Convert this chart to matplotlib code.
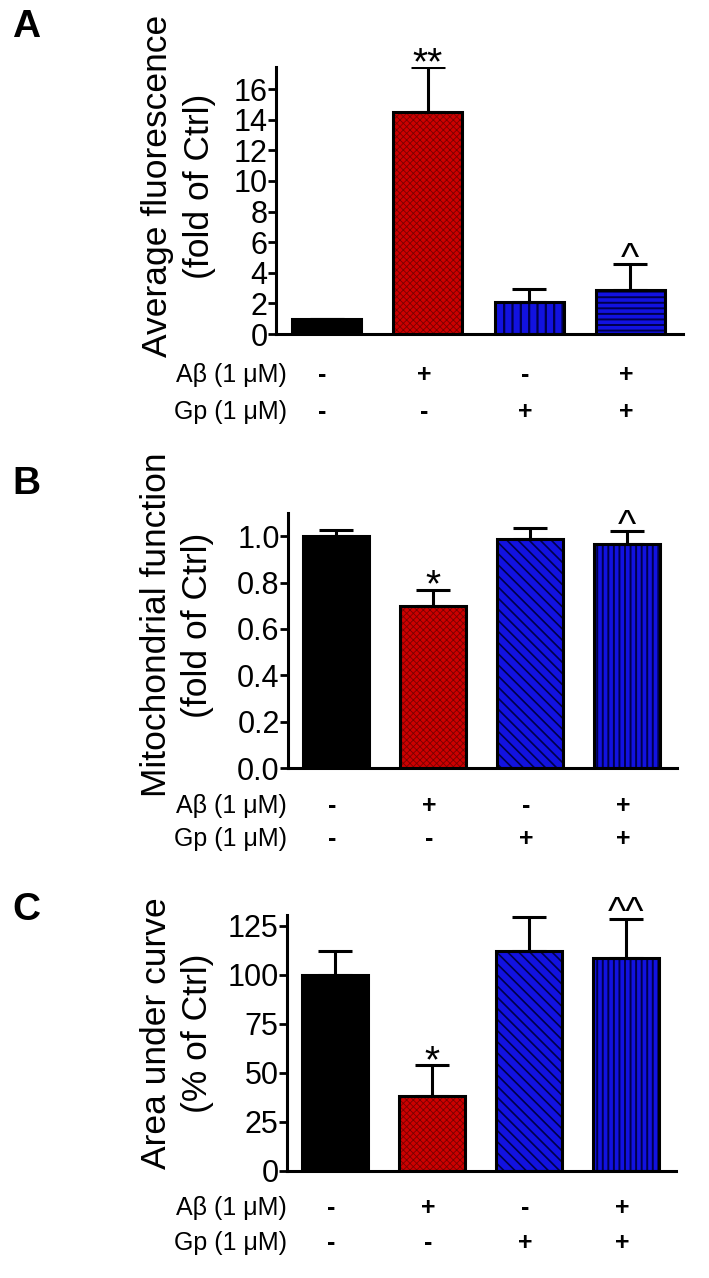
import matplotlib
matplotlib.use("Agg")
import matplotlib.pyplot as plt
import matplotlib.transforms as mtransforms
from matplotlib import font_manager

# ---------------- data ----------------
groups = ["Ctrl", "Abeta", "Gp", "Abeta+Gp"]
abeta_signs = ["-", "+", "-", "+"]
gp_signs = ["-", "-", "+", "+"]

fluor_mean = [1.0, 14.5, 2.1, 2.9]
fluor_err = [0.0, 2.95, 0.85, 1.65]
fluor_marks = ["", "**", "", "^"]
fluor_ticks = [0, 2, 4, 6, 8, 10, 12, 14, 16]

mito_mean = [1.0, 0.70, 0.99, 0.967]
mito_err = [0.028, 0.07, 0.045, 0.055]
mito_marks = ["", "*", "", "^"]
mito_ticks = [0.0, 0.2, 0.4, 0.6, 0.8, 1.0]

auc_mean = [100.0, 38.0, 112.0, 108.5]
auc_err = [12.0, 16.0, 17.5, 20.0]
auc_marks = ["", "*", "", "^^"]
auc_ticks = [0, 25, 50, 75, 100, 125]

# ---------------- style ----------------
W, H = 709, 1278
fig = plt.figure(figsize=(W / 100, H / 100), dpi=100)
fig.patch.set_facecolor("white")

names = {f.name for f in font_manager.fontManager.ttflist}
FONT = "Liberation Sans" if "Liberation Sans" in names else "DejaVu Sans"
HAS_NARROW = "Liberation Sans Narrow" in names
NARROW = "Liberation Sans Narrow" if HAS_NARROW else FONT
plt.rcParams["font.family"] = [FONT, "DejaVu Sans"]
plt.rcParams["hatch.linewidth"] = 1.4

TICK_FS = 27 if HAS_NARROW else 22
ROW_FS = 21 if HAS_NARROW else 18
MARK_FS = 30 if HAS_NARROW else 28


def frac_rect(x0, y0, x1, y1):
    return [x0 / W, 1 - y1 / H, (x1 - x0) / W, (y1 - y0) / H]


styles = [
    dict(face="black", hatch=None, hcol="black", hlw=1.0),
    dict(face="#cc0000", hatch="xxxxx", hcol="#7a0000", hlw=0.6),
]


def make_panel(rect, means, errs, marks, ticks, ylim, ticklabels, style3, style4,
               ylab1, ylab2, lab_x1, lab_x2, lab_y, letter, letter_y,
               row1_y, row2_y):
    ax = fig.add_axes(frac_rect(*rect))
    x = list(range(len(means)))
    sty = styles + [style3, style4]
    for i in x:
        s = sty[i]
        b = ax.bar(i, means[i], width=0.68, color=s["face"], edgecolor=s["hcol"],
                   linewidth=0, hatch=s["hatch"], zorder=2)
        for p in b:
            if hasattr(p, "set_hatch_linewidth"):
                p.set_hatch_linewidth(s["hlw"])
        ax.bar(i, means[i], width=0.68, fill=False, edgecolor="black",
               linewidth=2.2, zorder=3)
    ax.errorbar(x, means, yerr=[[0] * len(errs), errs], fmt="none",
                ecolor="black", elinewidth=2.2, capsize=12, capthick=2.2,
                zorder=4)
    for i, m in enumerate(marks):
        if m:
            dy = -5 if "*" in m else -4
            ax.annotate(m, (i, means[i] + errs[i]), xytext=(0, dy),
                        textcoords="offset points", ha="center",
                        va="baseline", fontsize=MARK_FS, family=NARROW,
                        zorder=5)
    ax.set_xlim(-0.5, 3.52)
    ax.set_ylim(*ylim)
    ax.set_yticks(ticks)
    ax.set_yticklabels(ticklabels, fontsize=TICK_FS, family=NARROW)
    ax.set_xticks([])
    for sp in ["top", "right"]:
        ax.spines[sp].set_visible(False)
    for sp in ["left", "bottom"]:
        ax.spines[sp].set_linewidth(2.2)
    ax.tick_params(axis="y", direction="out", length=6, width=2.0, pad=0)
    ax.set_facecolor("white")

    # y label (two lines)
    fig.text(lab_x1 / W, 1 - lab_y / H, ylab1, rotation=90, ha="center",
             va="center", fontsize=25.5)
    fig.text(lab_x2 / W, 1 - lab_y / H, ylab2, rotation=90, ha="center",
             va="center", fontsize=25.5)
    # panel letter
    fig.text(26 / W, 1 - letter_y / H, letter, ha="center", va="center",
             fontsize=28, fontweight="bold")
    # treatment rows
    trans = mtransforms.blended_transform_factory(ax.transData, fig.transFigure)
    fig.text(287 / W, 1 - row1_y / H, "A\u03b2 (1 \u03bcM)", ha="right",
             va="center", fontsize=ROW_FS, family=NARROW)
    fig.text(287 / W, 1 - row2_y / H, "Gp (1 \u03bcM)", ha="right",
             va="center", fontsize=ROW_FS, family=NARROW)
    for i in x:
        ax.text(i - 0.04, 1 - row1_y / H, abeta_signs[i], transform=trans,
                ha="center", va="center", fontsize=ROW_FS, family=NARROW,
                fontweight="bold")
        ax.text(i - 0.04, 1 - row2_y / H, gp_signs[i], transform=trans,
                ha="center", va="center", fontsize=ROW_FS, family=NARROW,
                fontweight="bold")
    return ax


blue_vert_a = dict(face="#1212e0", hatch="||", hcol="#00004a", hlw=1.6)
blue_horz = dict(face="#1212e0", hatch="---", hcol="#00004a", hlw=1.4)
blue_diag = dict(face="#1212e0", hatch="\\\\\\", hcol="#00004a", hlw=1.2)
blue_vert = dict(face="#1212e0", hatch="|||", hcol="#00004a", hlw=1.4)

make_panel((276, 67, 683, 334), fluor_mean, fluor_err, fluor_marks, fluor_ticks,
           (0, 17.45), [str(t) for t in fluor_ticks], blue_vert_a, blue_horz,
           "Average fluorescence", "(fold of Ctrl)", 157, 200, 186, "A", 27,
           375, 412)

make_panel((288, 513, 677, 768), mito_mean, mito_err, mito_marks, mito_ticks,
           (0, 1.1), [f"{t:.1f}" for t in mito_ticks], blue_diag, blue_vert,
           "Mitochondrial function", "(fold of Ctrl)", 157, 198, 625, "B", 484,
           806, 839)

make_panel((287, 915, 676, 1171), auc_mean, auc_err, auc_marks, auc_ticks,
           (0, 130.4), [str(t) for t in auc_ticks], blue_diag, blue_vert,
           "Area under curve", "(% of Ctrl)", 157, 198, 1033, "C", 910,
           1208, 1243)

fig.savefig("out.png", dpi=100, facecolor="white")
